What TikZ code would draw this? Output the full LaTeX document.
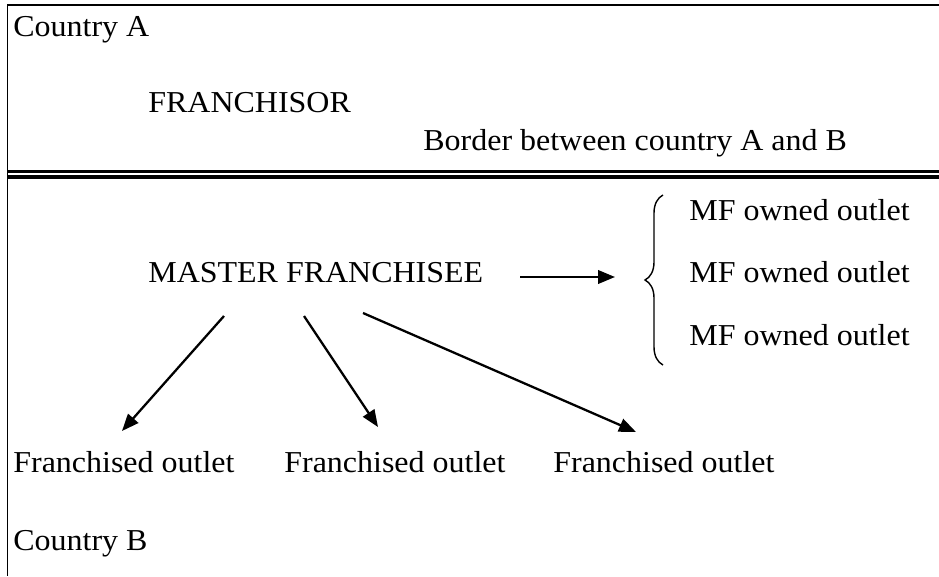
\documentclass[tikz,border=0pt]{standalone}
\usepackage{fontspec}
\setmainfont{Liberation Serif}
\usetikzlibrary{arrows.meta,decorations.pathreplacing}

\begin{document}
\begin{tikzpicture}[x=0.02cm, y=0.02cm,
    lbl/.style={font=\fontsize{18.2}{22}\selectfont, inner sep=0pt, anchor=base west, yscale=0.95},
    arr/.style={line width=1.3pt, -{Triangle[length=0.34cm, width=0.27cm]}}]
            \useasboundingbox (0,0) rectangle (939,576);

            % Frame
            \draw[line width=1pt] (939,571) -- (7.5,571) -- (7.5,0);

            % Border between the countries
            \draw[line width=1.4pt] (7.5,404.5) -- (939,404.5);
            \draw[line width=2.3pt] (7.5,399.3) -- (939,399.3);

            % Country A
            \node[lbl] (ca) at (13,539) {Country A};
            \node[lbl] (fr) at (148,464) {FRANCHISOR};
            \node[lbl] (bd) at (423,426) {Border between country A and B};

            % Country B
            \node[lbl] (mf) at (148,294) {MASTER FRANCHISEE};
            \foreach \y/\n in {356/1, 294/2, 231/3} {
                \node[lbl] (own\n) at (689,\y) {MF owned outlet};
            }
            \foreach \x/\n in {13/1, 284/2, 553/3} {
                \node[lbl] (fo\n) at (\x,104) {Franchised outlet};
            }
            \node[lbl] (cb) at (13,26) {Country B};

            % Arrow to the owned outlets
            \coordinate (hs) at (520,299);
            \coordinate (he) at (615,299);
            \draw[arr] (hs) -- (he);
            \draw[line width=0.8pt, decorate, decoration={brace, amplitude=0.36cm}]
                (663,211) -- (663,381);

            % Arrows to the franchised outlets
            \coordinate (s1) at (224,260);
            \coordinate (s2) at (304,260);
            \coordinate (s3) at (363,263);
            \coordinate (t1) at (122,145);
            \coordinate (t2) at (378,149);
            \coordinate (t3) at (636,144);
            \foreach \n in {1,2,3} {
                \draw[arr] (s\n) -- (t\n);
            }
        \end{tikzpicture}
\end{document}
